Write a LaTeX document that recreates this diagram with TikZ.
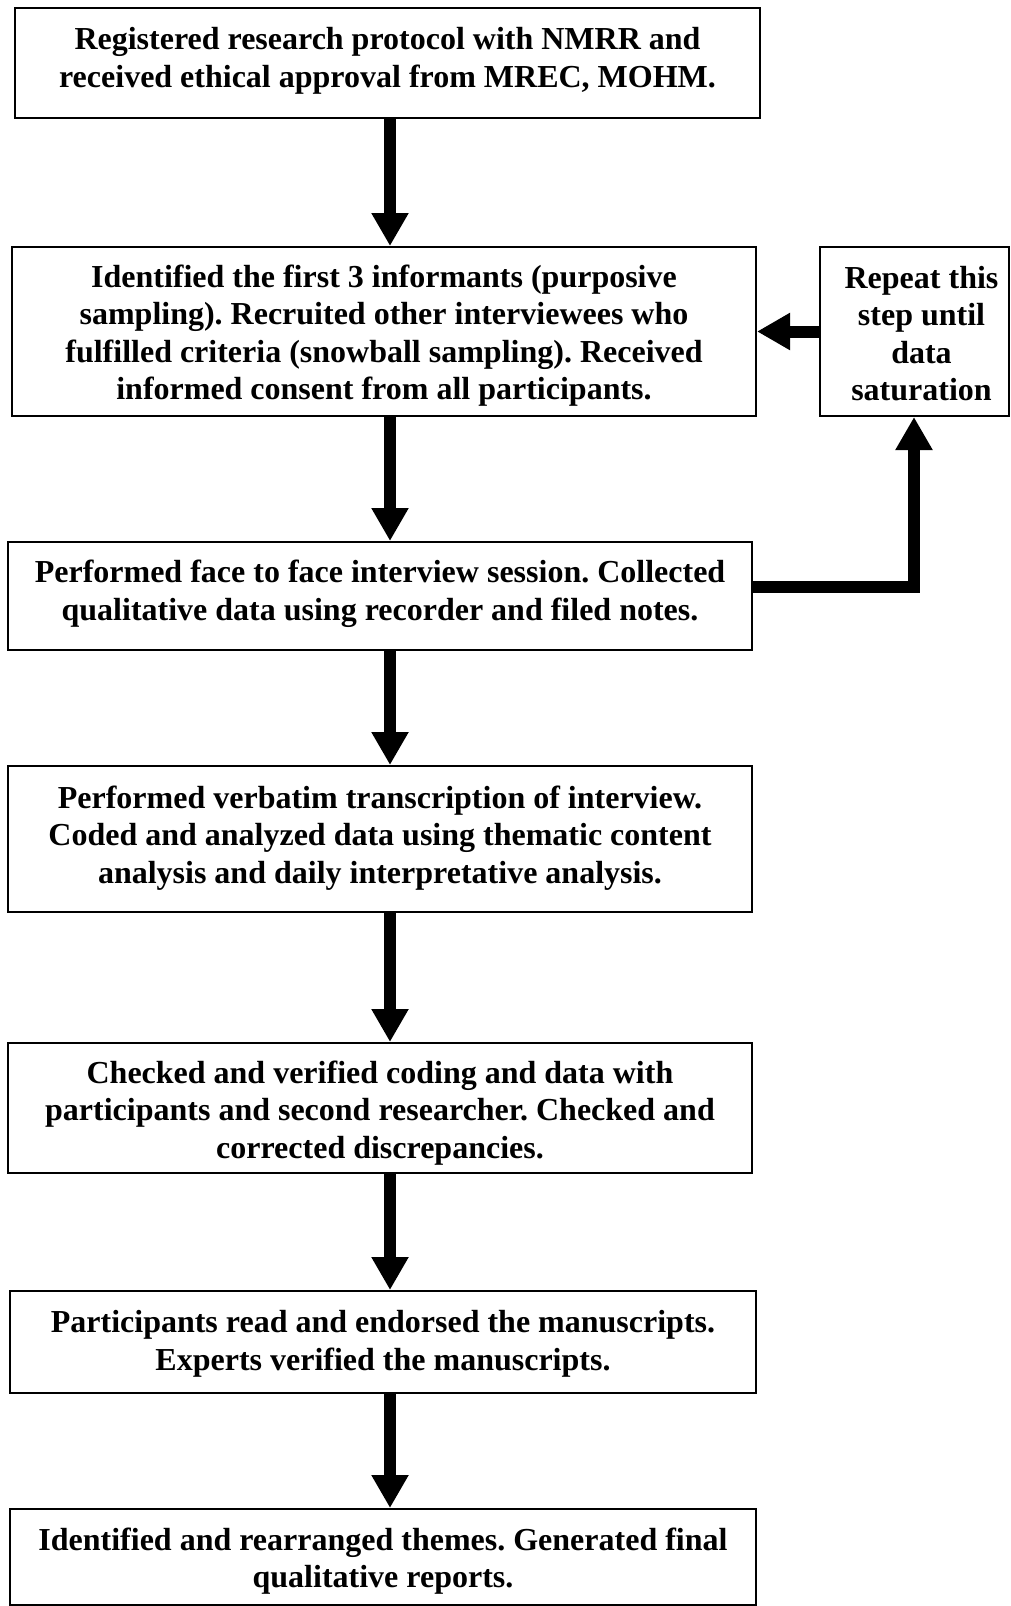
\documentclass[tikz,border=0pt]{standalone}
\usepackage{fontspec}
\setmainfont{Liberation Serif}
\usetikzlibrary{arrows.meta}
\begin{document}
\frenchspacing
\begin{tikzpicture}[x=1pt,y=-1pt,
  box/.style={draw=black, line width=2pt, rectangle, inner sep=0pt},
  txt/.style={inner sep=0pt, align=center, font=\fontsize{32}{37.5}\selectfont\bfseries},
  arr/.style={line width=12pt, -{Triangle[width=35pt,length=33pt]}, line join=miter}]
\useasboundingbox (0,0) rectangle (1010,1606);
% boxes
\node[box, minimum width=745pt, minimum height=110pt] (b1) at (387.5,63) {};
\node[box, minimum width=744pt, minimum height=169pt] (b2) at (384,331.5) {};
\node[box, minimum width=189pt, minimum height=169pt] (rep) at (914.5,331.5) {};
\node[box, minimum width=744pt, minimum height=108pt] (b3) at (380,596) {};
\node[box, minimum width=744pt, minimum height=146pt] (b4) at (380,839) {};
\node[box, minimum width=744pt, minimum height=130pt] (b5) at (380,1108) {};
\node[box, minimum width=746pt, minimum height=102pt] (b6) at (383,1342) {};
\node[box, minimum width=746pt, minimum height=96pt] (b7) at (383,1557) {};
% texts
\node[txt] (t1) at ([yshift=2pt]b1.center)
  {Registered research protocol with NMRR and\\received ethical approval from MREC, MOHM.};
\node[txt] (t2) at ([yshift=-4pt]b2.center)
  {Identified the first 3 informants (purposive\\sampling). Recruited other interviewees who\\fulfilled criteria (snowball sampling). Received\\informed consent from all participants.};
\node[txt] (trep) at ([xshift=7pt,yshift=-2pt]rep.center)
  {Repeat this\\step until\\data\\saturation};
\node[txt] (t3) at ([yshift=2pt]b3.center)
  {Performed face to face interview session. Collected\\qualitative data using recorder and filed notes.};
\node[txt] (t4) at ([yshift=1pt]b4.center)
  {Performed verbatim transcription of interview.\\Coded and analyzed data using thematic content\\analysis and daily interpretative analysis.};
\node[txt] (t5) at ([yshift=-5pt]b5.center)
  {Checked and verified coding and data with\\participants and second researcher. Checked and\\corrected discrepancies.};
\node[txt] (t6) at ([yshift=-2pt]b6.center)
  {Participants read and endorsed the manuscripts.\\Experts verified the manuscripts.};
\node[txt] (t7) at ([yshift=-4pt]b7.center)
  {Identified and rearranged themes. Generated final\\qualitative reports.};
% connectors
\coordinate (ax) at (390,0);
\coordinate (fx) at (914,0);
\coordinate (fy) at (0,587);
\draw[arr] (b1.south -| ax) -- (b2.north -| ax);
\draw[arr] (b2.south -| ax) -- (b3.north -| ax);
\draw[arr] (b3.south -| ax) -- (b4.north -| ax);
\draw[arr] (b4.south -| ax) -- (b5.north -| ax);
\draw[arr] (b5.south -| ax) -- (b6.north -| ax);
\draw[arr] (b6.south -| ax) -- (b7.north -| ax);
\draw[arr] (rep.west) -- (b2.east |- rep.west);
\draw[arr] (b3.east |- fy) -- (fx |- fy) -- (rep.south -| fx);
\end{tikzpicture}
\end{document}
